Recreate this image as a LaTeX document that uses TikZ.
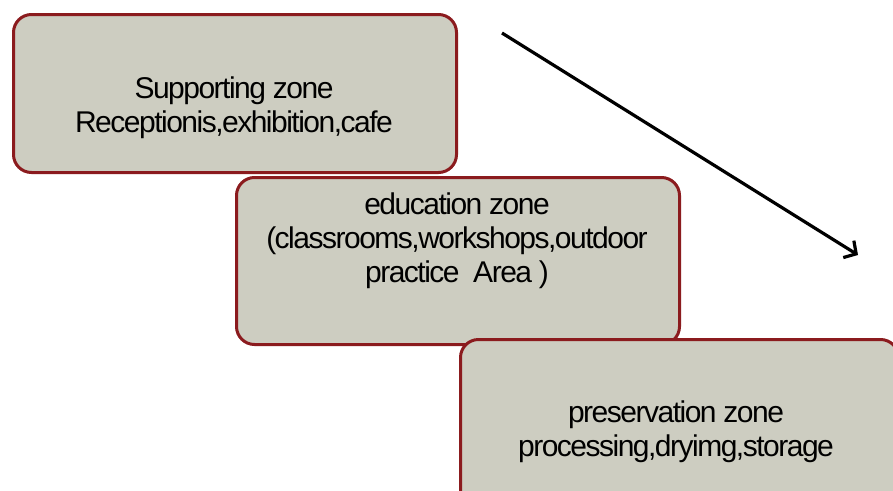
\documentclass[tikz,border=0pt]{standalone}
\usepackage{fontspec}
\setmainfont{Liberation Sans}
\usetikzlibrary{arrows.meta}
\definecolor{zonefill}{RGB}{205,205,193}
\definecolor{zoneedge}{RGB}{139,27,30}
\tikzset{
  zonebox/.style={draw=zoneedge, fill=zonefill, line width=3pt,
    rounded corners=18pt, anchor=north west, inner sep=0pt},
  zonetext/.style={align=center, inner sep=0pt,
    font=\fontsize{30}{34}\selectfont\addfontfeatures{LetterSpace=-5}},
  flowarrow/.style={line width=3.2pt, -{Straight Barb[length=9pt,width=20pt]}}
}
\begin{document}
\begin{tikzpicture}[x=1pt, y=-1pt]
  \useasboundingbox (0,0) rectangle (893,490);
  \clip (0,0) rectangle (893,490);
  % the three zones, stepped down to the right
  \node[zonebox, minimum width=443pt, minimum height=158pt] (support) at (12,13) {};
  \node[zonebox, minimum width=443pt, minimum height=167pt] (education) at (235,176) {};
  \node[zonebox, minimum width=438pt, minimum height=168pt] (preserve) at (459,338) {};
  % zone labels
  \node[zonetext] (supporttxt) at (234,108) {Supporting zone\\Receptionis,exhibition,cafe};
  \node[zonetext] (educationtxt) at (457,241) {education zone\\(classrooms,workshops,outdoor\\practice\ \ Area )};
  \node[zonetext] (preservetxt) at (676,432) {preservation zone\\processing,dryimg,storage};
  % direction arrow
  \coordinate (arrowstart) at (502,33);
  \coordinate (arrowend) at (858,255);
  \draw[flowarrow] (arrowstart) -- (arrowend);
\end{tikzpicture}
\end{document}
